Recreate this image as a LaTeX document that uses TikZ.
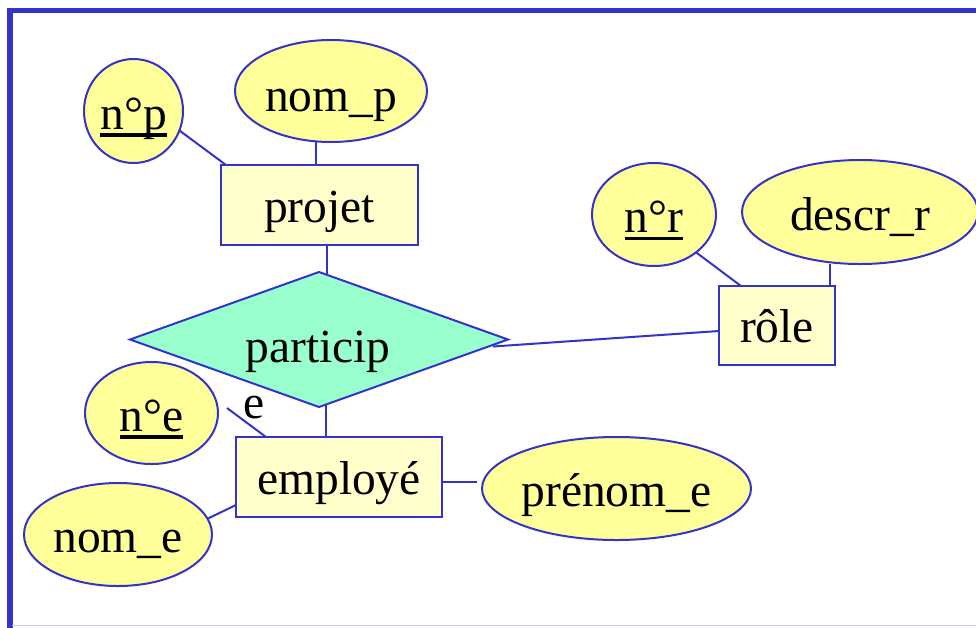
\documentclass[tikz,border=0pt]{standalone}
\usepackage{fontspec}
\setmainfont{Liberation Serif}
\usetikzlibrary{shapes.geometric,calc,backgrounds}
\definecolor{erblue}{RGB}{51,51,204}
\definecolor{attrfill}{RGB}{255,255,153}
\definecolor{entfill}{RGB}{255,255,204}
\definecolor{relfill}{RGB}{153,255,204}
\definecolor{framelight}{RGB}{200,200,240}
% identifier attributes: text with a heavy underline
\newcommand\keyattr[1]{\setbox0\hbox{#1}\rlap{\rule[-7.5pt]{\wd0}{3.5pt}}\box0}
\begin{document}
\begin{tikzpicture}[x=1pt,y=-1pt,
  every node/.style={font=\fontsize{47.5}{57}\selectfont, inner sep=0pt, outer sep=0pt},
  attr/.style={ellipse, draw=erblue, fill=attrfill, line width=2pt, text height=36pt, text depth=0pt},
  entity/.style={rectangle, draw=erblue, fill=entfill, line width=2.2pt, text height=34pt, text depth=0pt},
  relation/.style={diamond, draw=erblue, fill=relfill, line width=2pt},
  link/.style={draw=erblue, line width=2pt}]
\useasboundingbox (0,0) rectangle (976,627);

% frame
\draw[erblue, line width=5.5pt, line join=miter] (10,630) -- (10,10.5) -- (990,10.5);
\draw[framelight, line width=1.5pt] (12,625.5) -- (990,625.5);

% entities, relation and attributes
\node[attr, minimum width=99pt, minimum height=104pt] (np) at (133.5,111) {\keyattr{n°p}};
\node[attr, minimum width=192pt, minimum height=102pt, text height=40pt] (nomp) at (331,91) {nom\_p};
\node[entity, minimum width=197pt, minimum height=80pt] (projet) at (319.5,205) {projet};
\node[relation, minimum width=378pt, minimum height=135pt] (rel) at (319,339.5) {};
\node[anchor=base] (reltext) at (318,362) {particip};
\node[entity, minimum width=116pt, minimum height=79pt] (role) at (777,325.5) {rôle};
\node[attr, minimum width=124pt, minimum height=103pt] (nr) at (654,214.5) {\keyattr{n°r}};
\node[attr, minimum width=236pt, minimum height=104pt] (descr) at (860,212) {descr\_r};
\node[entity, minimum width=206pt, minimum height=80pt] (emp) at (339,477) {employé};
\node[attr, minimum width=133pt, minimum height=102pt] (ne) at (151.5,413) {\keyattr{n°e}};
\node[attr, minimum width=188pt, minimum height=103pt] (nome) at (118,534.5) {nom\_e};
\node[attr, minimum width=269pt, minimum height=103pt] (pre) at (616.5,488.5) {prénom\_e};
\node[anchor=base] (card) at (254,418) {e};

% connectors
\coordinate (pa) at ($(projet.north)+(-3.5,0)$);
\coordinate (pb) at ($(projet.south)+(7,0)$);
\coordinate (pc) at ($(emp.north)+(-13,0)$);
\coordinate (pd) at ($(role.north east)+(-5,0)$);
\begin{scope}[on background layer]
\draw[link] (np.-23) -- ($(projet.north west)+(5,0)$);
\draw[link] (pa) -- (pa |- nomp.south);
\draw[link] (pb) -- (pb |- rel.center);
\draw[link] (pc) -- (pc |- rel.center);
\draw[link] ($(rel.east)+(-15,7)$) -- ($(role.west)+(0,5.5)$);
\draw[link] (nr.-42.5) -- ($(role.north west)+(22,0)$);
\draw[link] (pd) -- (pd |- descr.south);
\draw[link] ($(ne.east)+(9,-5)$) -- ($(emp.north west)+(30,0)$);
\draw[link] (nome.10.4) -- ($(emp.south west)+(0,-12)$);
\draw[link] ($(emp.east)+(0,5)$) -- ($(emp.east -| pre.west)+(-5,5)$);
\end{scope}
\end{tikzpicture}
\end{document}
